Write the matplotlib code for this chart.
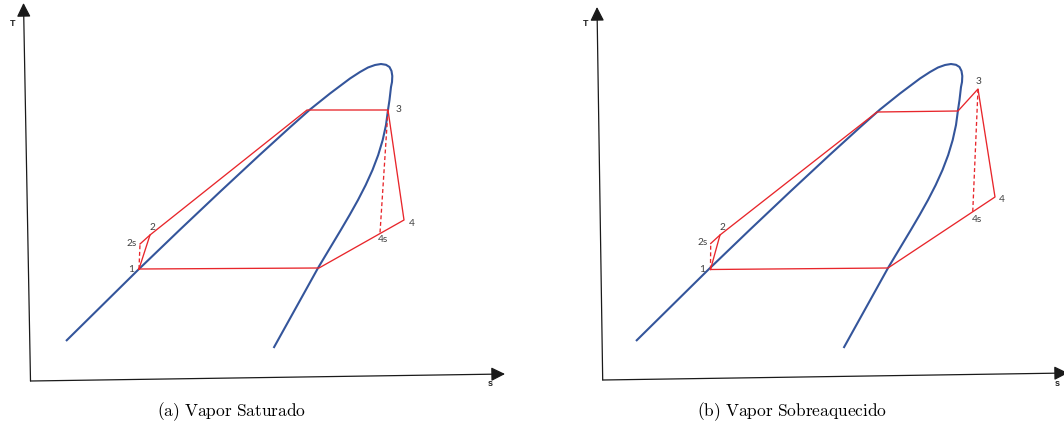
"""T-s diagrams of the vapour power cycle: (a) saturated vapour, (b) superheated vapour.

Schematic only: coordinates are entropy / temperature in arbitrary units read
off the original sketch, origin at the corner of each pair of axes.
"""
import matplotlib.pyplot as plt

W, H = 1064, 434

# saturation dome (shared by both panels), arbitrary s / T units
DOME_S = [36, 109, 150, 190, 230, 260, 280, 290, 300, 310, 320, 330, 338, 345,
          351, 356, 359.5, 361.5, 362.3, 362, 361, 359.5, 358, 356, 352.7,
          348.2, 342.5, 335.7, 328, 319.6, 310.8, 301.8, 292.8, 288, 275.8,
          264.7, 253.6, 243.6]
DOME_T = [40, 112, 151.4, 189.2, 226.4, 253.7, 271.5, 279.5, 287.5, 295, 302.5,
          309, 313.5, 316, 317, 316.2, 314, 310, 305, 299, 294, 281, 271, 256,
          241, 226, 211, 196, 181, 166, 151, 136, 121, 113, 91, 71, 51, 33]

# (a) saturated vapour: state points
SAT_STATES = {
    "1": (109, 112), "2s": (110, 137), "2": (120, 146), "f": (277, 271),
    "3": (358, 271), "4": (374, 161), "4s": (350, 148), "h": (289, 113),
}
SAT_LOOP = ["1", "2", "f", "3", "4", "h", "1"]

# (b) superheated vapour: state points
SUP_STATES = {
    "1": (110.5, 111.5), "2s": (110.7, 137.5), "2": (120, 146), "f": (277, 269),
    "g": (358, 270), "3": (378, 292), "4": (395, 184), "4s": (372.7, 168),
    "h": (288, 113),
}
SUP_LOOP = ["1", "2", "f", "g", "3", "4", "h", "1"]

LABELS = ["1", "2s", "2", "3", "4", "4s"]
CAPTIONS = ["(a) Vapor Saturado", "(b) Vapor Sobreaquecido"]

BLUE = "#34559b"
RED = "#e8262b"
GREY = "#404040"

plt.rcParams["mathtext.fontset"] = "cm"


def draw_panel(ax, states, loop, label_offsets, yaxis, xaxis, t_pos, s_pos):
    ax.plot(DOME_S, DOME_T, color=BLUE, lw=1.5, solid_capstyle="butt",
            solid_joinstyle="round")
    ax.plot([states[k][0] for k in loop], [states[k][1] for k in loop],
            color=RED, lw=0.95)
    ax.plot([states["2s"][0], states["2"][0]], [states["2s"][1], states["2"][1]],
            color=RED, lw=0.95)
    for a, b in [("1", "2s"), ("3", "4s")]:
        ax.plot([states[a][0], states[b][0]], [states[a][1], states[b][1]],
                color=RED, lw=0.95, ls=(0, (3, 2)))
    for lab in LABELS:
        x, y = states[lab]
        dx, dy, ha = label_offsets[lab]
        ax.text(x + dx, y + dy, lab, fontsize=7.3, color=GREY, ha=ha,
                va="center", family="Lato")

    arrow = dict(arrowstyle="-|>,head_length=0.6,head_width=0.3",
                 mutation_scale=14, color="#1a1a1a", lw=0.9,
                 shrinkA=0, shrinkB=0)
    ax.annotate("", xy=yaxis[1], xytext=yaxis[0], arrowprops=arrow,
                annotation_clip=False)
    ax.annotate("", xy=xaxis[1], xytext=xaxis[0], arrowprops=arrow,
                annotation_clip=False)
    ax.text(*t_pos, "T", fontsize=6.5, fontweight="bold", ha="center",
            va="center", family="Liberation Sans", color="#222222")
    ax.text(*s_pos, "s", fontsize=6.5, fontweight="bold", ha="center",
            va="center", family="Liberation Sans", color="#222222")
    ax.axis("off")


fig = plt.figure(figsize=(W / 100, H / 100), dpi=100)

# left panel: pixel x 0..532, origin of s/T at pixel (30, 381)
ax_a = fig.add_axes([0, 1 - 395 / H, 532 / W, 395 / H])
ax_a.set_xlim(-30, 502)
ax_a.set_ylim(-14, 381)
draw_panel(
    ax_a, SAT_STATES, SAT_LOOP,
    {"1": (-5, 0, "right"), "2s": (-3, 1, "right"), "2": (2, 7, "center"),
     "3": (8, 1, "left"), "4": (5, -3, "left"), "4s": (3, -6, "center")},
    yaxis=[(0.5, 0), (-6.5, 378)], xaxis=[(0.5, 0), (475, 7)],
    t_pos=(-17, 358), s_pos=(460, -2),
)

# right panel: pixel x 532..1064, origin of s/T at pixel (600, 381)
ax_b = fig.add_axes([532 / W, 1 - 395 / H, 532 / W, 395 / H])
ax_b.set_xlim(-68, 464)
ax_b.set_ylim(-14, 381)
draw_panel(
    ax_b, SUP_STATES, SUP_LOOP,
    {"1": (-5, 0, "right"), "2s": (-3, 1, "right"), "2": (2, 7, "center"),
     "3": (1, 7, "center"), "4": (4, -2, "left"), "4s": (4, -7, "center")},
    yaxis=[(2.7, 1), (-3, 374)], xaxis=[(2.7, 1), (468, 8)],
    t_pos=(-14, 357), s_pos=(457, -2),
)

for xc, cap in zip([232, 792], CAPTIONS):
    fig.text(xc / W, 1 - 412 / H, r"$\mathrm{" + cap.replace(" ", r"\ ") + "}$",
             ha="center", va="center", fontsize=12.5)

fig.savefig("out.png", dpi=100)
